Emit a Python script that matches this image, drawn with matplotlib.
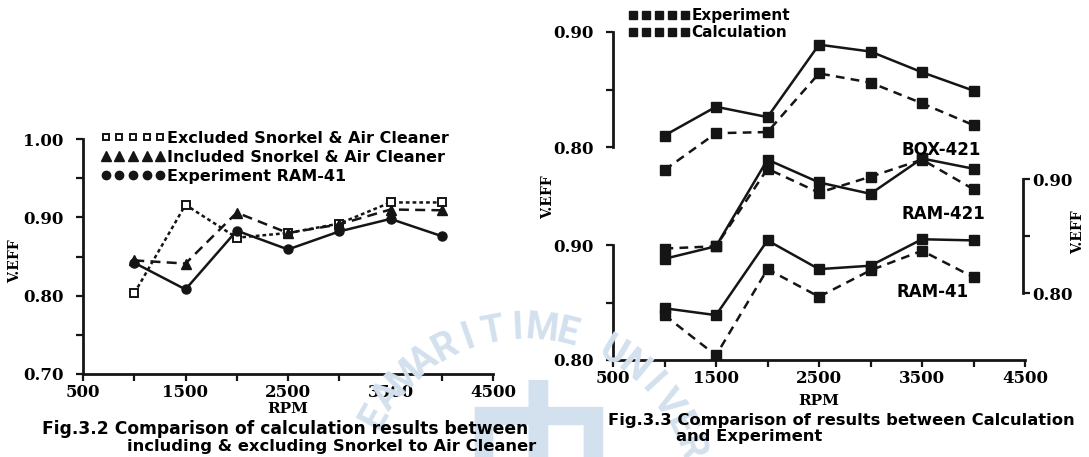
import numpy as np
import matplotlib.pyplot as plt
from matplotlib.lines import Line2D

# ---- data ----
rpm = [1000, 1500, 2000, 2500, 3000, 3500, 4000]

# Fig.3.2
excluded = [0.803, 0.916, 0.874, 0.880, 0.892, 0.919, 0.919]
included = [0.845, 0.841, 0.906, 0.880, 0.891, 0.910, 0.909]
exp_ram41 = [0.842, 0.808, 0.883, 0.859, 0.882, 0.898, 0.876]

# Fig.3.3
box421_exp = [0.810, 0.835, 0.826, 0.889, 0.883, 0.865, 0.849]
box421_cal = [0.780, 0.812, 0.813, 0.864, 0.856, 0.838, 0.819]
ram421_exp = [0.830, 0.841, 0.917, 0.897, 0.887, 0.918, 0.909]
ram421_cal = [0.839, 0.841, 0.909, 0.888, 0.902, 0.917, 0.891]
ram41_exp = [0.845, 0.839, 0.904, 0.879, 0.882, 0.905, 0.904]
ram41_cal = [0.839, 0.804, 0.879, 0.855, 0.878, 0.895, 0.872]

xticks = [500, 1000, 1500, 2000, 2500, 3000, 3500, 4000, 4500]
xticklabels = ['500', '', '1500', '', '2500', '', '3500', '', '4500']

W, H = 1089, 457
INK = '#151515'
plt.rcParams['font.family'] = 'DejaVu Serif'
plt.rcParams['font.weight'] = 'bold'
plt.rcParams['axes.labelweight'] = 'bold'
plt.rcParams['font.size'] = 12
SANS = dict(family='DejaVu Sans', weight='bold')

fig = plt.figure(figsize=(W / 100, H / 100), dpi=100)


def rect(x0, y0, x1, y1):
    # pixel box -> figure fraction
    return [x0 / W, 1 - y1 / H, (x1 - x0) / W, (y1 - y0) / H]


def fpos(x, y):
    return x / W, 1 - y / H


def ftext(x, y, s, **kw):
    fig.text(*fpos(x, y), s, **kw)


# faint watermark of the scan
wm = 'EAMARITIME UNIVERS'
cx, cy, r = 525, 500, 172
for ch, a in zip(wm, np.linspace(151, 9, len(wm))):
    px = cx + r * np.cos(np.radians(a))
    py = cy - r * np.sin(np.radians(a))
    ftext(px, py, ch, color='#d3e0ee', fontsize=27, family='Roboto', weight='bold',
          rotation=a - 90, ha='center', va='center', zorder=0)
ftext(538, 466, '中', family=['Noto Sans CJK SC', 'DejaVu Sans'], color='#d3e0ee',
      fontsize=112, weight='bold', ha='center', va='center', zorder=0)


def style_ticks(ax, pady=9, padx=4):
    ax.set_xlim(500, 4500)
    ax.set_xticks(xticks)
    ax.set_xticklabels(xticklabels)
    ax.tick_params(direction='out', length=5, width=1.6, color=INK)
    ax.tick_params(axis='y', pad=pady)
    ax.tick_params(axis='x', pad=padx)
    for s in ['top', 'right']:
        ax.spines[s].set_visible(False)
    for s in ['left', 'bottom']:
        ax.spines[s].set_linewidth(2)
        ax.spines[s].set_color(INK)
    ax.patch.set_alpha(0)


LW = 1.8

# ================= Fig.3.2 =================
ax = fig.add_axes(rect(83, 139, 493, 374))
ax.plot(rpm, excluded, color=INK, lw=LW, ls=(0, (1.5, 1.2)), marker='s', ms=5.5,
        mfc='white', mec=INK, mew=1.4)
ax.plot(rpm, included, color=INK, lw=LW, ls=(0, (4, 2.5)), marker='^', ms=7, mfc=INK, mec=INK)
ax.plot(rpm, exp_ram41, color=INK, lw=LW, ls='-', marker='o', ms=6.5, mfc=INK, mec=INK)
ax.set_ylim(0.70, 1.00)
ax.set_yticks([0.70, 0.75, 0.80, 0.85, 0.90, 0.95, 1.00])
ax.set_yticklabels(['0.70', '', '0.80', '', '0.90', '', '1.00'])
style_ticks(ax, padx=2)
ax.set_xlabel('RPM', size=11, labelpad=1)
ftext(15, 261, 'V.EFF', size=10, rotation=90, ha='center', va='center')

h1 = [Line2D([], [], ls='none', marker='s', ms=5, mfc='white', mec=INK, mew=1.4),
      Line2D([], [], ls='none', marker='^', ms=6.5, color=INK),
      Line2D([], [], ls='none', marker='o', ms=6, color=INK)]
fig.legend(h1, ['Excluded Snorkel & Air Cleaner', 'Included Snorkel & Air Cleaner',
                'Experiment RAM-41'], numpoints=5, handlelength=4.0, handletextpad=0.15,
           labelspacing=0.25, borderpad=0, borderaxespad=0, frameon=False,
           loc='upper left', bbox_to_anchor=fpos(101, 131), prop=dict(size=11.5, **SANS))

ftext(42, 429, 'Fig.3.2 Comparison of calculation results between', ha='left', va='center',
      size=12.3, **SANS)
ftext(127, 446, 'including & excluding Snorkel to Air Cleaner', ha='left', va='center',
      size=11.8, **SANS)

# ================= Fig.3.3 =================
# one shared x axis, three separate V.EFF scales stacked on it
top, bot = 20, 360
box = rect(613, top, 1025, bot)
axl = fig.add_axes(box)                      # RAM-41, lower left scale
axb = fig.add_axes(box, sharex=axl)          # BOX-421, upper left scale
axr = fig.add_axes(box, sharex=axl)          # RAM-421, right scale


def lims(y80, y90):
    # ylim that puts 0.80 / 0.90 at the given pixel rows
    k = 0.1 / (y80 - y90)
    return 0.80 - (bot - y80) * k, 0.90 + (y90 - top) * k


axl.set_ylim(*lims(360, 245))
axb.set_ylim(*lims(147, 32))
axr.set_ylim(*lims(293, 179))

for a, e, c in [(axb, box421_exp, box421_cal), (axr, ram421_exp, ram421_cal),
                (axl, ram41_exp, ram41_cal)]:
    a.plot(rpm, e, color=INK, lw=LW, ls='-', marker='s', ms=7, mfc=INK, mec=INK)
    a.plot(rpm, c, color=INK, lw=LW, ls=(0, (3.5, 2.5)), marker='s', ms=7, mfc=INK, mec=INK)

for a in (axl, axb, axr):
    style_ticks(a, padx=2)
    a.set_yticks([0.80, 0.85, 0.90])
    a.set_yticklabels(['0.80', '', '0.90'])
    a.spines['left'].set_bounds(0.80, 0.90)

for a in (axb, axr):
    a.spines['bottom'].set_visible(False)
    a.tick_params(axis='x', which='both', bottom=False, labelbottom=False)

axr.spines['left'].set_visible(False)
axr.spines['right'].set_visible(True)
axr.spines['right'].set_linewidth(2)
axr.spines['right'].set_color(INK)
axr.spines['right'].set_bounds(0.80, 0.90)
axr.spines['right'].set_position(('axes', 0.995))
axr.yaxis.tick_right()
axr.tick_params(axis='y', pad=2)

axl.set_xlabel('RPM', size=11, labelpad=5)
ftext(548, 197, 'V.EFF', size=10, rotation=90, ha='center', va='center')
ftext(1078, 232, 'V.EFF', size=10, rotation=90, ha='center', va='center')

ftext(941, 150, 'BOX-421', ha='center', va='center', size=12, **SANS)
ftext(943, 214, 'RAM-421', ha='center', va='center', size=12, **SANS)
ftext(933, 292, 'RAM-41', ha='center', va='center', size=12, **SANS)

h2 = [Line2D([], [], ls='none', marker='s', ms=5.5, color=INK),
      Line2D([], [], ls='none', marker='s', ms=5.5, color=INK)]
fig.legend(h2, ['Experiment', 'Calculation'], numpoints=5, handlelength=4.0,
           handletextpad=0.15, labelspacing=0.15, borderpad=0, borderaxespad=0,
           frameon=False, loc='upper left', bbox_to_anchor=fpos(628, 8),
           prop=dict(size=11, **SANS))

ftext(608, 420, 'Fig.3.3 Comparison of results between Calculation', ha='left', va='center',
      size=11.8, **SANS)
ftext(676, 437, 'and Experiment', ha='left', va='center', size=11.8, **SANS)

fig.savefig('out.png', dpi=100)
